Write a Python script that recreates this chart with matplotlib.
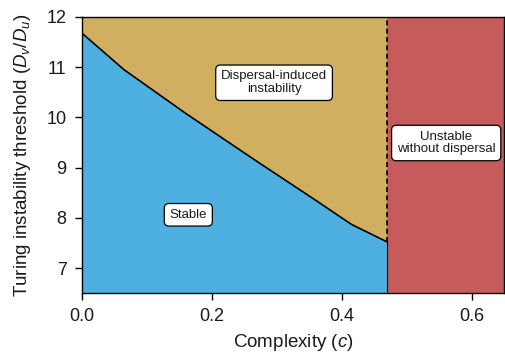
import matplotlib
matplotlib.use("Agg")
import matplotlib.pyplot as plt
import numpy as np

plt.rcParams['font.family'] = ['Liberation Sans', 'DejaVu Sans']
plt.rcParams['mathtext.fontset'] = 'custom'
plt.rcParams['mathtext.rm'] = 'Liberation Sans'
plt.rcParams['mathtext.it'] = 'Liberation Sans:italic'

# Boundary between stable and dispersal-induced instability
complexity = [0.0, 0.065, 0.16, 0.27, 0.36, 0.415, 0.47]
threshold = [11.68, 10.95, 10.08, 9.12, 8.35, 7.87, 7.52]
c_crit = 0.47
x_max = 0.65
y_min, y_max = 6.5, 12.0

blue = '#4DB0E1'
gold = '#D1AF61'
red = '#C65B5B'
txt = '#1a1a1a'

fig = plt.figure(figsize=(5.05, 3.54), dpi=100)
ax = fig.add_axes([0.162, 0.172, 0.836, 0.780])

ax.fill_between(complexity, y_min, threshold, color=blue, lw=0)
ax.fill_between(complexity, threshold, y_max, color=gold, lw=0)
ax.axvspan(c_crit, x_max, color=red, lw=0)
ax.plot(complexity, threshold, color='black', lw=1.2)
ax.plot([c_crit, c_crit], [threshold[-1], y_max], color='black', lw=1.2, ls=(0, (3, 2)))
ax.plot([c_crit, c_crit], [y_min, threshold[-1]], color='black', lw=0.8)

box = dict(boxstyle='round,pad=0.4,rounding_size=0.35', fc='white', ec='black', lw=0.9)
ax.text(0.296, 10.69, 'Dispersal-induced\ninstability', ha='center', va='center',
        fontsize=9.5, bbox=box, linespacing=1.1, color=txt)
ax.text(0.164, 8.06, 'Stable', ha='center', va='center', fontsize=9.5, bbox=box, color=txt)
ax.text(0.561, 9.49, 'Unstable\nwithout dispersal', ha='center', va='center',
        fontsize=9.5, bbox=box, linespacing=1.1, color=txt)

ax.set_xlim(0, x_max)
ax.set_ylim(y_min, y_max)
ax.set_xticks([0.0, 0.2, 0.4, 0.6])
ax.set_xticklabels(['0.0', '0.2', '0.4', '0.6'])
ax.set_yticks([7, 8, 9, 10, 11, 12])
ax.tick_params(labelsize=13, length=5, width=1, direction='out', pad=6, labelcolor=txt)
for s in ax.spines.values():
    s.set_linewidth(1.0)
ax.set_xlabel('Complexity ($c$)', fontsize=13.5, color=txt, labelpad=5)
ax.set_ylabel('Turing instability threshold ($D_v/D_u$)', fontsize=13.5, color=txt, labelpad=10)

fig.savefig('out.png', dpi=100)
